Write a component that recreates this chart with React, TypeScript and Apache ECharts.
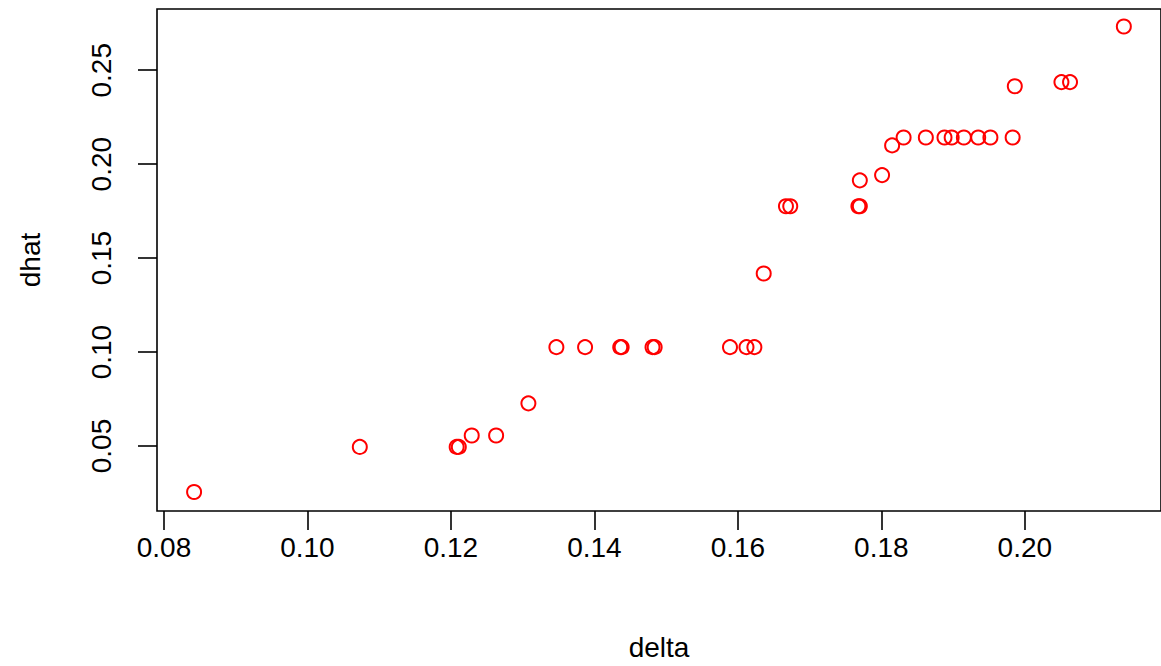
import React, { useEffect, useRef } from "react";
import * as echarts from "echarts";

const delta = [
  0.0842, 0.1073, 0.1208, 0.1211, 0.1229, 0.1263, 0.1308, 0.1347, 0.1387,
  0.1436, 0.1438, 0.1481, 0.1484, 0.1589, 0.1612, 0.1623, 0.1636, 0.1667,
  0.1673, 0.1768, 0.177, 0.177, 0.1801, 0.1815, 0.1831, 0.1862, 0.1888,
  0.1898, 0.1915, 0.1935, 0.1952, 0.1983, 0.1986, 0.2051, 0.2063, 0.2138,
];
const dhat = [
  0.0255, 0.0495, 0.0495, 0.0495, 0.0556, 0.0556, 0.0727, 0.1026, 0.1026,
  0.1026, 0.1026, 0.1026, 0.1026, 0.1026, 0.1026, 0.1026, 0.1418, 0.1776,
  0.1776, 0.1776, 0.1776, 0.1914, 0.1942, 0.21, 0.2142, 0.2142, 0.2142,
  0.2142, 0.2142, 0.2142, 0.2142, 0.2142, 0.2415, 0.2437, 0.2437, 0.2733,
];
const xTicks = [0.08, 0.1, 0.12, 0.14, 0.16, 0.18, 0.2];
const yTicks = [0.05, 0.1, 0.15, 0.2, 0.25];

const FONT = "Liberation Sans";
const FS = 28;

export default function App() {
  const ref = useRef<HTMLDivElement>(null);
  useEffect(() => {
    if (!ref.current) return;
    const chart = echarts.init(ref.current, null, { renderer: "svg" });
    const points = delta.map((d, i) => [d, dhat[i]]);
    chart.setOption({
      animation: false,
      backgroundColor: "#ffffff",
      grid: {
        left: 157,
        top: 9,
        width: 1009,
        height: 509,
        show: true,
        borderColor: "#000000",
        borderWidth: 1.6,
        backgroundColor: "transparent",
      },
      xAxis: {
        type: "value",
        min: 0.07903,
        max: 0.21898,
        name: "delta",
        nameLocation: "middle",
        nameGap: 122,
        nameTextStyle: { fontFamily: FONT, fontSize: FS, color: "#000" },
        splitLine: { show: false },
        axisLine: { show: false },
        axisTick: {
          show: true,
          length: 19,
          customValues: xTicks,
          lineStyle: { color: "#000", width: 1.6 },
        },
        axisLabel: {
          customValues: xTicks,
          margin: 22,
          fontFamily: FONT,
          fontSize: FS,
          color: "#000",
          formatter: (v: number) => v.toFixed(2),
        },
      },
      yAxis: {
        type: "value",
        min: 0.0154,
        max: 0.2826,
        name: "dhat",
        nameLocation: "middle",
        nameRotate: 90,
        nameGap: 113,
        nameTextStyle: { fontFamily: FONT, fontSize: FS, color: "#000" },
        splitLine: { show: false },
        axisLine: { show: false },
        axisTick: {
          show: true,
          length: 19,
          customValues: yTicks,
          lineStyle: { color: "#000", width: 1.6 },
        },
        axisLabel: {
          customValues: yTicks,
          rotate: 90,
          margin: 42,
          fontFamily: FONT,
          fontSize: FS,
          color: "#000",
          formatter: (v: number) => v.toFixed(2),
        },
      },
      series: [
        {
          type: "scatter",
          data: points,
          symbol: "circle",
          symbolSize: 14,
          itemStyle: {
            color: "transparent",
            borderColor: "#ff0000",
            borderWidth: 2,
            opacity: 1,
          },
          emphasis: { disabled: true },
        },
      ],
    });
    return () => chart.dispose();
  }, []);
  return (
    <div
      ref={ref}
      style={{ position: "fixed", left: 0, top: 0, width: 1161, height: 666 }}
    />
  );
}
